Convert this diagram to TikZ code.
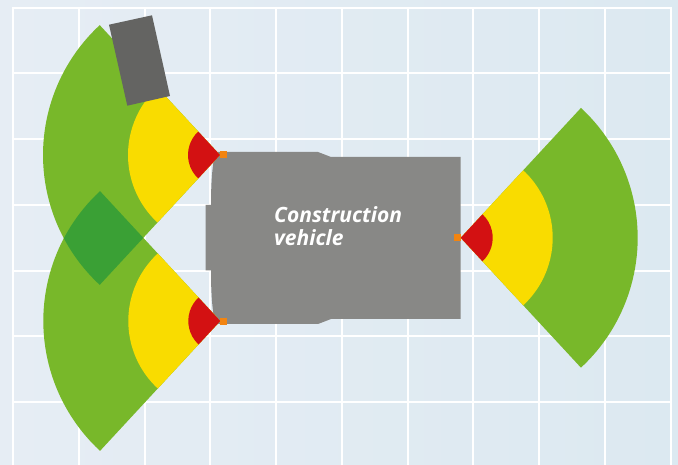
\documentclass[tikz,border=0pt]{standalone}
\usepackage{fontspec}
\setmainfont{Open Sans}
\definecolor{bgl}{HTML}{E6EDF4}
\definecolor{bgr}{HTML}{DCE9F1}
\definecolor{fgreen}{HTML}{78B82A}
\definecolor{fdark}{HTML}{3AA035}
\definecolor{fyellow}{HTML}{F9DC00}
\definecolor{fred}{HTML}{D31112}
\definecolor{vgray}{HTML}{888886}
\definecolor{ogray}{HTML}{646462}
\definecolor{sensor}{HTML}{F28410}
\newcommand{\fanpath}[5]{(#1,#2) -- ++(#3:#5pt) arc[start angle=#3,end angle=#4,radius=#5pt] -- cycle}
\newcommand{\fanset}[4]{%
  \fill[fgreen] \fanpath{#1}{#2}{#3}{#4}{177};
  \fill[fyellow] \fanpath{#1}{#2}{#3}{#4}{92};
  \fill[fred] \fanpath{#1}{#2}{#3}{#4}{32};}
\tikzset{gridline/.style={white,line width=2pt},
  sensorbox/.style={fill=sensor,draw=none,minimum size=7pt,inner sep=0pt,outer sep=0pt,rectangle},
  vehiclelabel/.style={white,font=\fontsize{21}{23.5}\selectfont\bfseries\itshape,align=left,anchor=north west,inner sep=0pt}}
\begin{document}
\begin{tikzpicture}[x=1pt,y=-1pt]
\useasboundingbox (0,0) rectangle (678,465);
\shade[left color=bgl,right color=bgr] (0,0) rectangle (678,465);
\foreach \gx in {13,78.7,144.5,210.3,276,341.8,407.6,473.3,539,604.8,670.6}
  \draw[gridline] (\gx,7.5) -- (\gx,465);
\foreach \gy in {8,73.5,139.3,205,270.7,336.5,402.2}
  \draw[gridline] (12,\gy) -- (671.6,\gy);
% vehicle
\fill[vgray] (460.7,157) -- (331,157) -- (318,152) -- (215.5,152)
  .. controls (212,165) and (211,185) .. (211,205) -- (205.5,205) -- (205.5,270.5) -- (211,270.5)
  .. controls (211,291) and (212,311) .. (215.5,324) -- (318,324) -- (331,319) -- (460.7,319) -- cycle;
% fans
\fanset{220}{155}{132.8}{227.2}
\fanset{220.3}{321}{132.8}{227.2}
\fanset{460.7}{237.8}{-47.2}{47.2}
\begin{scope}
  \clip \fanpath{220}{155}{132.8}{227.2}{177};
  \fill[fdark] \fanpath{220.3}{321}{132.8}{227.2}{177};
\end{scope}
% obstacle
\fill[ogray] (109,24.7) -- (152,15.3) -- (170,96) -- (127.3,105.7) -- cycle;
% sensors
\node[sensorbox] (s1) at (223.3,154.8) {};
\node[sensorbox] (s2) at (223.3,321.5) {};
\node[sensorbox] (s3) at (457.5,237.8) {};
\node[vehiclelabel] (label) at (274,206) {Construction\\vehicle};
\end{tikzpicture}
\end{document}
